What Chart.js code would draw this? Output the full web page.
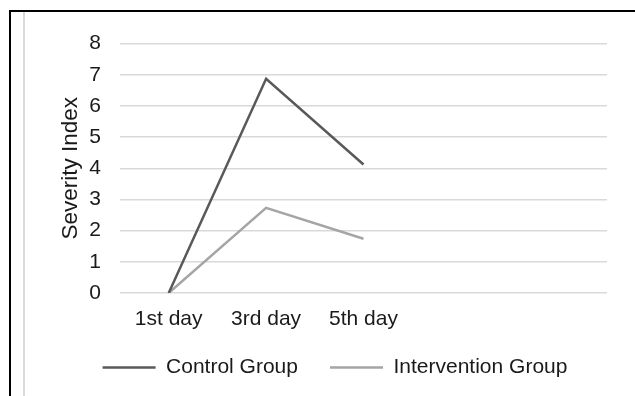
<!DOCTYPE html>
<html>
<head>
<meta charset="utf-8">
<script src="https://cdn.jsdelivr.net/npm/chart.js@4"></script>
<style>
  html, body { margin: 0; padding: 0; background: #fff; }
  body { width: 635px; height: 396px; overflow: hidden; position: relative; }
  #frame {
    position: absolute; left: 9px; top: 10px; width: 626px; height: 386px;
    box-sizing: border-box; border-top: 2px solid #000; border-left: 2px solid #000;
  }
  #inner {
    position: absolute; left: 12px; top: 0; width: 612px; height: 384px;
    box-sizing: border-box; border-left: 2px solid #d9d9d9;
  }
  canvas { display: block; }
</style>
</head>
<body>
<div id="frame"><div id="inner"><canvas id="severityChart" width="610" height="384"></canvas></div></div>
<script>
const days = ['1st day', '3rd day', '5th day', '', ''];
const controlGroup = [0, 6.87, 4.12];
const interventionGroup = [0, 2.73, 1.74];
const yTicks = [0, 1, 2, 3, 4, 5, 6, 7, 8];

const font = 'Liberation Sans, Arial, sans-serif';

// nudge the legend row up a bit, the wide item gap makes its box too tall
const legendNudge = {
    id: 'legendNudge',
    afterLayout(chart) {
        const lg = chart.legend;
        if (!lg) return;
        lg.top -= 8;
        lg.bottom -= 8;
        lg.left += 3;
        lg.right += 3;
    }
};

const ctx = document.getElementById('severityChart').getContext('2d');
const chart = new Chart(ctx, {
    type: 'line',
    data: {
        labels: days,
        datasets: [{
            label: 'Control Group',
            data: controlGroup,
            borderColor: '#595959',
            backgroundColor: '#595959',
            borderWidth: 2.5,
            pointRadius: 0,
            pointStyle: 'line',
            tension: 0,
            fill: false,
        }, {
            label: 'Intervention Group',
            data: interventionGroup,
            borderColor: '#a5a5a5',
            backgroundColor: '#a5a5a5',
            borderWidth: 2.5,
            pointRadius: 0,
            pointStyle: 'line',
            tension: 0,
            fill: false,
        }]
    },
    options: {
        responsive: false,
        animation: false,
        devicePixelRatio: 1,
        layout: {
            padding: { left: 32, right: 28, top: 28, bottom: 0 }
        },
        scales: {
            x: {
                offset: true,
                grid: { display: false, drawTicks: false },
                border: { display: false },
                ticks: {
                    padding: 14,
                    maxRotation: 0,
                    autoSkip: false,
                    color: '#1a1a1a',
                    font: { family: font, size: 21 }
                },
                afterFit: (scale) => { scale.height = 40; }
            },
            y: {
                min: 0,
                max: 8,
                afterBuildTicks: (scale) => { scale.ticks = yTicks.map(v => ({ value: v })); },
                grid: { color: '#d9d9d9', lineWidth: 1.5, drawTicks: false },
                border: { display: false },
                ticks: {
                    padding: 19,
                    color: '#1a1a1a',
                    font: { family: font, size: 21 }
                },
                title: {
                    display: true,
                    text: 'Severity Index',
                    color: '#1a1a1a',
                    padding: { top: 0, bottom: 0 },
                    font: { family: font, size: 22.5 }
                },
                afterFit: (scale) => { scale.width = 63; }
            }
        },
        plugins: {
            legend: {
                display: true,
                position: 'bottom',
                labels: {
                    usePointStyle: true,
                    pointStyleWidth: 53,
                    padding: 32,
                    color: '#1a1a1a',
                    font: { family: font, size: 21 }
                }
            },
            tooltip: { enabled: false }
        }
    },
    plugins: [legendNudge]
});
</script>
</body>
</html>
